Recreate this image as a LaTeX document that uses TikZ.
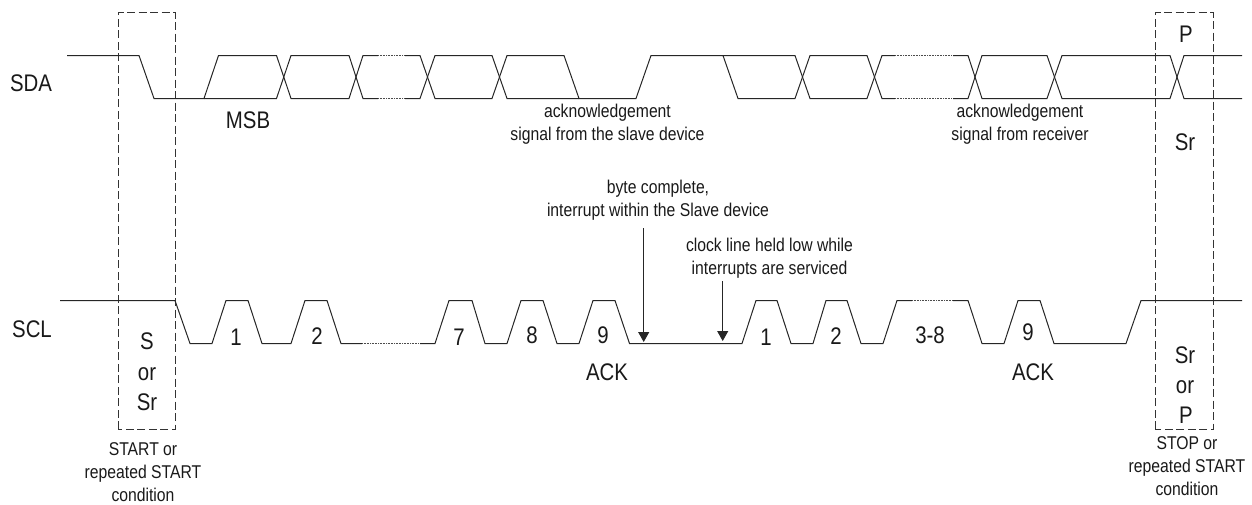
\documentclass[tikz,border=0pt]{standalone}
\usepackage{fontspec}
\setmainfont[FakeStretch=0.85]{Liberation Sans}
\usetikzlibrary{arrows.meta}
\tikzset{
  wave/.style={draw=black!85,line width=1pt,line join=miter},
  gap/.style={draw=black!70,line width=1pt,dash pattern=on 1pt off 0.6pt},
  framebox/.style={draw=black!80,line width=1pt,dash pattern=on 8pt off 3.5pt},
  big/.style={inner sep=0pt,anchor=base,font=\fontsize{24}{27}\selectfont,text=black!90},
  small/.style={inner sep=0pt,align=center,font=\fontsize{18.5}{23}\selectfont,text=black!90},
  pointer/.style={draw=black!85,line width=1pt,-{Triangle[width=11pt,length=10pt]}}
}
\begin{document}
\begin{tikzpicture}[x=1pt,y=-1pt]
\useasboundingbox (0,0) rectangle (1252,504);
% frames
\draw[framebox] (118,429) -- (118,12.5) -- (175,12.5) -- (175,429) -- cycle;
\draw[framebox] (1155,429) -- (1155,12.5) -- (1213,12.5) -- (1213,429) -- cycle;
% SDA trace one
\draw[wave] (67,55.5) -- (139,55.5) -- (154,98.5) -- (204,98.5) -- (218.5,55.5) -- (276.5,55.5) -- (291,98.5) -- (349,98.5) -- (363,55.5) -- (378,55.5);
\draw[gap] (378,55.5) -- (405,55.5);
\draw[wave] (405,55.5) -- (420,55.5) -- (435,98.5) -- (492,98.5) -- (507,55.5) -- (564,55.5) -- (579,98.5) -- (636,98.5) -- (651,55.5) -- (723,55.5) -- (738,98.5) -- (795,98.5) -- (810,55.5) -- (867,55.5) -- (882,98.5) -- (895,98.5);
\draw[gap] (895,98.5) -- (953,98.5);
\draw[wave] (953,98.5) -- (968,98.5) -- (982,55.5) -- (1047,55.5) -- (1062,98.5) -- (1170,98.5) -- (1184,55.5) -- (1242,55.5);
% SDA trace two
\draw[wave] (204,98.5) -- (276.5,98.5) -- (291,55.5) -- (349,55.5) -- (363,98.5) -- (378,98.5);
\draw[gap] (378,98.5) -- (405,98.5);
\draw[wave] (405,98.5) -- (420,98.5) -- (435,55.5) -- (492,55.5) -- (507,98.5) -- (579,98.5);
\draw[wave] (723,55.5) -- (795,55.5) -- (810,98.5) -- (867,98.5) -- (882,55.5) -- (895,55.5);
\draw[gap] (895,55.5) -- (953,55.5);
\draw[wave] (953,55.5) -- (968,55.5) -- (982,98.5) -- (1047,98.5) -- (1062,55.5) -- (1170,55.5) -- (1184,98.5) -- (1242,98.5);
% SCL
\draw[wave] (60,300.5) -- (175,300.5) -- (190,343.5) -- (212,343.5) -- (226,300.5) -- (248,300.5) -- (262,343.5) -- (291,343.5) -- (305,300.5) -- (327,300.5) -- (341,343.5) -- (362,343.5);
\draw[gap] (362,343.5) -- (420,343.5);
\draw[wave] (420,343.5) -- (435,343.5) -- (449,300.5) -- (472,300.5) -- (485,343.5) -- (507,343.5) -- (521,300.5) -- (543,300.5) -- (557,343.5) -- (579,343.5) -- (593,300.5) -- (615,300.5) -- (629.5,343.5) -- (742,343.5) -- (756,300.5) -- (777,300.5) -- (791,343.5) -- (813,343.5) -- (826,300.5) -- (847,300.5) -- (861,343.5) -- (883,343.5) -- (897,300.5) -- (912,300.5);
\draw[gap] (912,300.5) -- (953,300.5);
\draw[wave] (953,300.5) -- (968,300.5) -- (982,343.5) -- (1004,343.5) -- (1018,300.5) -- (1040,300.5) -- (1054,343.5) -- (1126,343.5) -- (1141,300.5) -- (1242,300.5);
% labels
\node[big] (sda) at (31,91.5) {SDA};
\node[big] (scl) at (32,337) {SCL};
\node[big] (msb) at (248,128) {MSB};
\node[big] (p1) at (1186,42) {P};
\node[big] (sr1) at (1185,150) {Sr};
\node[big] (s2) at (147,349) {S};
\node[big] (or2) at (147,380) {or};
\node[big] (sr2) at (147,410) {Sr};
\node[big] (sr3) at (1185,363) {Sr};
\node[big] (or3) at (1185,393) {or};
\node[big] (p3) at (1186,423) {P};
\node[big] (d1) at (236,345) {1};
\node[big] (d2) at (317,344) {2};
\node[big] (d7) at (459,345) {7};
\node[big] (d8) at (532,343) {8};
\node[big] (d9) at (603,343) {9};
\node[big] (d1b) at (766,345) {1};
\node[big] (d2b) at (836,344) {2};
\node[big] (d38) at (930,343) {3-8};
\node[big] (d9b) at (1028,340) {9};
\node[big] (ack1) at (607,380) {ACK};
\node[big] (ack2) at (1033,380) {ACK};
\node[small] (ackslave) at (607.5,124) {acknowledgement\\signal from the slave device};
\node[small] (ackrecv) at (1020,124) {acknowledgement\\signal from receiver};
\node[small] (byte) at (658,200.5) {byte complete,\\interrupt within the Slave device};
\node[small] (hold) at (769.5,258) {clock line held low while\\interrupts are serviced};
\node[small] (start) at (143,472) {START or\\repeated START\\condition};
\node[small] (stop) at (1187,466) {STOP or\\repeated START\\condition};
% arrows
\coordinate (bytefrom) at (643.7,228);
\coordinate (byteto) at (643.7,342);
\coordinate (holdfrom) at (722.7,281);
\coordinate (holdto) at (722.7,341);
\draw[pointer] (bytefrom) -- (byteto);
\draw[pointer] (holdfrom) -- (holdto);
\end{tikzpicture}
\end{document}
